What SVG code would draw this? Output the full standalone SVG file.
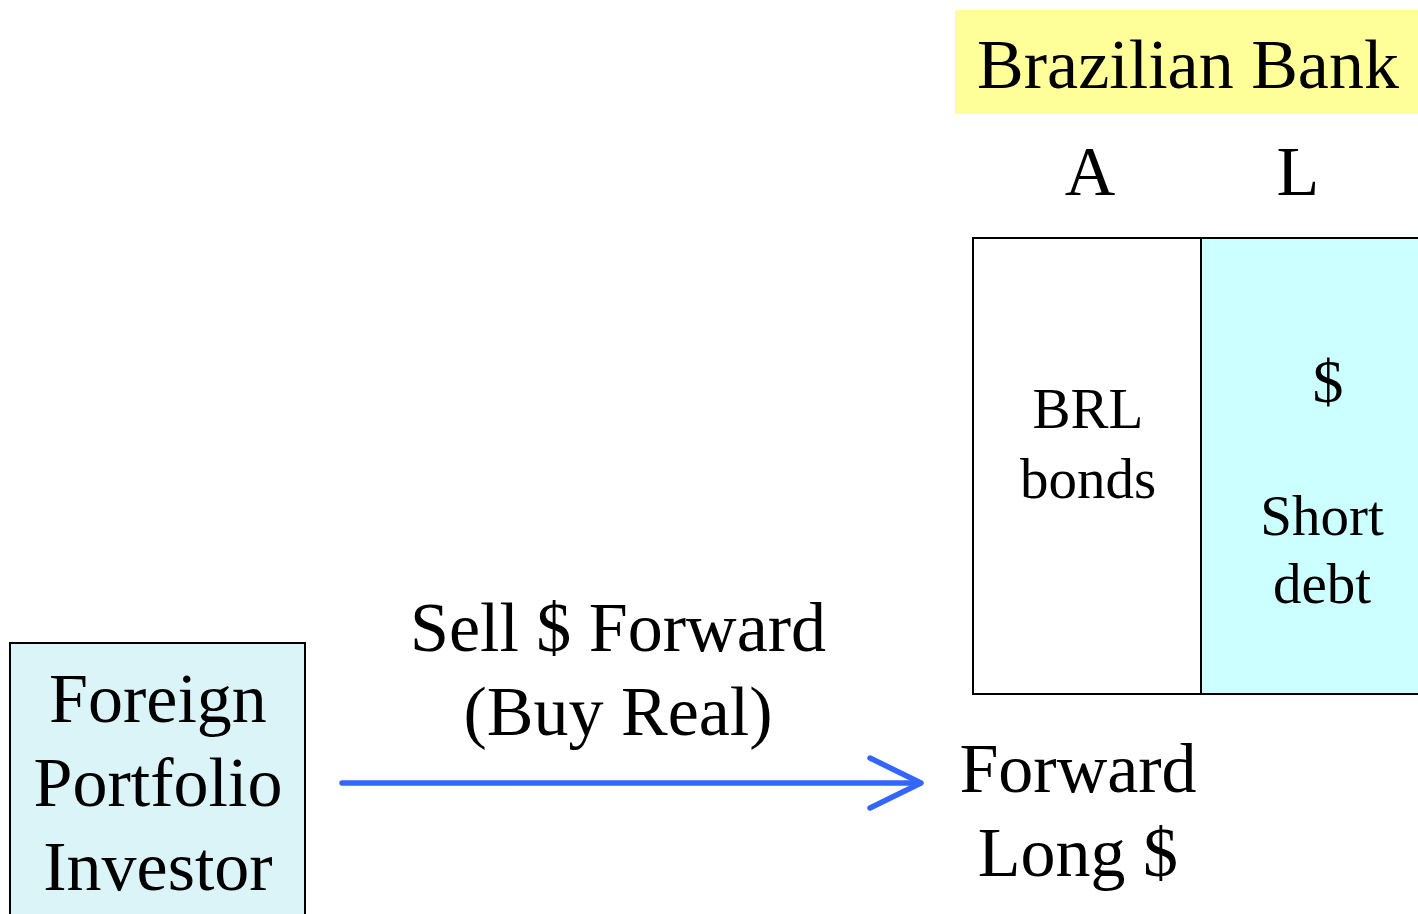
<svg xmlns="http://www.w3.org/2000/svg" width="1418" height="914" viewBox="0 0 1418 914">
<style>
text { font-family: "Liberation Serif", "Times New Roman", serif; fill: #000; text-anchor: middle; }
.big { font-size: 70px; }
.mid { font-size: 57px; }
.conn { stroke: #3366ff; stroke-width: 5.5; fill: none; stroke-linecap: round; stroke-linejoin: round; }
</style>
<rect width="1418" height="914" fill="#ffffff"/>
<g id="bank-title">
<rect x="955" y="10" width="470" height="104" fill="#ffff99"/>
<text class="big" x="1188" y="88">Brazilian Bank</text>
</g>
<g id="col-labels">
<text class="big" x="1090" y="195">A</text>
<text class="big" x="1298" y="195">L</text>
</g>
<g id="balance-sheet">
<rect x="1201" y="238" width="230" height="456" fill="#ccffff" stroke="#000" stroke-width="2"/>
<rect x="973" y="238" width="228" height="456" fill="#ffffff" stroke="#000" stroke-width="2"/>
<text class="mid" x="1088" y="428">BRL</text>
<text class="mid" x="1088" y="498">bonds</text>
<text class="mid" x="1328" y="402" style="font-size:62px">$</text>
<text class="mid" x="1322" y="535">Short</text>
<text class="mid" x="1322" y="603">debt</text>
</g>
<g id="investor">
<rect x="10" y="643" width="295" height="290" fill="#dbf4f8" stroke="#000" stroke-width="2"/>
<text class="big" x="158" y="722">Foreign</text>
<text class="big" x="158" y="806">Portfolio</text>
<text class="big" x="158" y="890">Investor</text>
</g>
<g id="forward">
<text class="big" x="1078" y="792">Forward</text>
<text class="big" x="1078" y="876">Long $</text>
</g>
<g id="connectors">
<line class="conn" x1="342" y1="783" x2="920" y2="783"/>
<polyline class="conn" points="870,758 921,783 870,808"/>
<text class="big" x="618" y="651">Sell $ Forward</text>
<text class="big" x="618" y="735">(Buy Real)</text>
</g>
</svg>
